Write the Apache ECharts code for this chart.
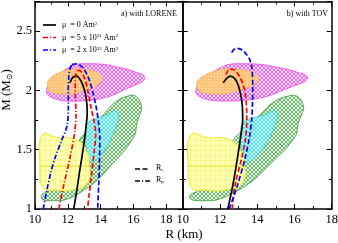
<!DOCTYPE html>
<html><head><meta charset="utf-8">
<script src="https://cdn.jsdelivr.net/npm/echarts@6/dist/echarts.min.js"></script>
<style>html,body{margin:0;padding:0;background:#fff}#c{width:338px;height:243px}</style>
</head><body><div id="c"></div>
<script>
// ---------- axis ticks ----------
const xTicksLeft = [10, 12, 14, 16, 18];
const xTicksRight = [10, 12, 14, 16, 18];
const yTicks = [1, 1.5, 2, 2.5];

// ---------- (a) LORENE curves: radius R (km), mass M (Msun) ----------
const loreneBlackR = [12.36, 12.54, 12.7, 12.85, 13.0, 13.12, 13.18, 13.17, 13.1, 13.0, 12.8, 12.54, 12.3, 12.13];
const loreneBlackM = [1.0, 1.15, 1.3, 1.43, 1.57, 1.71, 1.8, 1.87, 1.95, 2.01, 2.08, 2.12, 2.11, 2.065];
const loreneRedPolarR = [11.45, 11.75, 12.13, 12.42, 12.5, 12.46, 12.45, 12.5, 12.6];
const loreneRedPolarM = [1.0, 1.2, 1.43, 1.65, 1.8, 1.95, 2.07, 2.14, 2.17];
const loreneRedEqR = [12.6, 12.8, 13.05, 13.25, 13.42, 13.6, 13.7, 13.62, 13.45, 13.3, 13.2];
const loreneRedEqM = [2.17, 2.16, 2.09, 1.98, 1.85, 1.74, 1.63, 1.5, 1.3, 1.12, 1.0];
const loreneBluePolarR = [10.5, 10.71, 10.95, 11.22, 11.6, 11.95, 12.03, 12.03, 12.06, 12.15, 12.25];
const loreneBluePolarM = [1.0, 1.15, 1.3, 1.43, 1.57, 1.7, 1.85, 2.0, 2.12, 2.19, 2.22];
const loreneBlueEqR = [12.25, 12.55, 12.85, 13.15, 13.35, 13.55, 13.7, 13.85, 13.95, 13.93, 13.88, 13.82];
const loreneBlueEqM = [2.22, 2.225, 2.2, 2.14, 2.07, 1.97, 1.88, 1.75, 1.6, 1.4, 1.2, 1.0];

// ---------- (b) TOV curves ----------
const tovBlackR = [12.42, 12.69, 12.94, 13.15, 13.22, 13.2, 13.12, 12.99, 12.8, 12.54, 12.35, 12.18];
const tovBlackM = [1.0, 1.2, 1.43, 1.65, 1.75, 1.87, 1.96, 2.04, 2.1, 2.12, 2.1, 2.065];
const tovRedR = [12.66, 12.81, 13.17, 13.38, 13.44, 13.42, 13.35, 13.22, 13.04, 12.8, 12.54, 12.4, 12.33];
const tovRedM = [1.0, 1.2, 1.43, 1.6, 1.75, 1.88, 1.98, 2.06, 2.12, 2.17, 2.18, 2.16, 2.135];
const tovBlueR = [12.5, 12.94, 13.35, 13.6, 13.7, 13.75, 13.76, 13.71, 13.6, 13.44, 13.2, 12.9, 12.75, 12.63];
const tovBlueM = [1.0, 1.2, 1.43, 1.62, 1.75, 1.9, 2.04, 2.2, 2.26, 2.3, 2.34, 2.355, 2.345, 2.32];

// ---------- observational / constraint regions (same in both panels) ----------
const magentaR = [10.7, 10.9, 11.4, 11.9, 12.5, 13.3, 14.2, 14.9, 15.6, 16.2, 16.6, 16.7, 16.5, 16.0, 15.5, 14.9, 14.3, 13.5, 12.5, 11.6, 11.0, 10.75];
const magentaM = [2.0, 2.07, 2.13, 2.18, 2.22, 2.225, 2.22, 2.2, 2.18, 2.15, 2.13, 2.1, 2.07, 2.04, 2.01, 1.97, 1.94, 1.92, 1.91, 1.915, 1.94, 1.97];
const orangeR = [10.75, 10.9, 11.2, 11.65, 12.2, 12.72, 13.3, 13.8, 14.07, 13.95, 13.44, 12.8, 12.18, 11.6, 11.1, 10.85];
const orangeM = [2.06, 2.1, 2.13, 2.16, 2.18, 2.18, 2.17, 2.15, 2.11, 2.06, 2.02, 1.99, 1.97, 1.97, 1.98, 2.0];
const greenR = [10.4, 10.45, 11.1, 11.9, 12.9, 13.6, 14.0, 14.7, 15.5, 15.8, 16.1, 16.2, 16.4, 16.5, 16.3, 16.0, 15.6, 15.2, 14.7, 14.2, 13.8, 13.2, 12.7, 12.2, 11.5, 10.8];
const greenM = [1.12, 1.08, 1.07, 1.08, 1.15, 1.22, 1.27, 1.38, 1.5, 1.56, 1.63, 1.72, 1.8, 1.86, 1.93, 1.96, 1.95, 1.93, 1.88, 1.8, 1.75, 1.66, 1.58, 1.4, 1.25, 1.15];
const cyanR = [13.2, 13.6, 14.1, 14.5, 14.9, 15.1, 14.9, 14.6, 14.2, 13.8, 13.4, 13.2, 13.1];
const cyanM = [1.72, 1.76, 1.78, 1.8, 1.83, 1.78, 1.68, 1.58, 1.49, 1.42, 1.4, 1.45, 1.6];
const yellowR = [10.6, 11.1, 11.6, 12.2, 12.8, 13.1, 13.3, 13.3, 13.4, 13.2, 12.9, 12.3, 11.8, 11.2, 10.6, 10.35, 10.3, 10.3, 10.25, 10.35];
const yellowM = [1.64, 1.61, 1.6, 1.6, 1.56, 1.5, 1.43, 1.36, 1.29, 1.22, 1.18, 1.16, 1.15, 1.16, 1.16, 1.22, 1.3, 1.4, 1.5, 1.6];
const yellowMidR = [10.3, 13.3];
const yellowMidM = [1.36, 1.36];

const FONT = '"Liberation Serif", "DejaVu Serif", serif';

function pat(bg, fg, size, kind) {
  const c = document.createElement('canvas');
  c.width = size; c.height = size;
  const g = c.getContext('2d');
  g.fillStyle = bg; g.fillRect(0, 0, size, size);
  g.fillStyle = fg; g.strokeStyle = fg; g.lineWidth = 1;
  if (kind === 'x') {
    g.beginPath(); g.moveTo(0, 0); g.lineTo(size, size); g.moveTo(size, 0); g.lineTo(0, size); g.stroke();
  } else if (kind === 'grid') {
    g.fillRect(0, 0, size, 1); g.fillRect(0, 0, 1, size);
  } else if (kind === 'dot') {
    g.fillRect(1, 1, 1, 1);
  }
  return { image: c, repeat: 'repeat' };
}

const fills = {
  magenta: pat('#fde0fd', '#f565f5', 4, 'x'),
  orange: pat('#fcc57a', '#fde2bb', 3, 'dot'),
  green: pat('#f0faf0', '#63b963', 4, 'x'),
  cyan: pat('#c6fafa', '#55e0e0', 4, 'x'),
  yellow: pat('#ffffb0', '#f6f690', 5, 'grid')
};

function zip(R, M) { return R.map((r, i) => [r, M[i]]); }

function region(ax, R, M, fill, stroke) {
  return {
    type: 'custom', xAxisIndex: ax, yAxisIndex: ax, silent: true, z: 1,
    data: [[R[0], M[0]]],
    renderItem: function (p, api) {
      if (p.dataIndex !== 0) return null;
      return {
        type: 'polygon',
        shape: { points: R.map((r, i) => api.coord([r, M[i]])), smooth: 0.35 },
        style: { fill: fill, stroke: stroke, lineWidth: 0.8 }
      };
    }
  };
}
function segLine(ax, R, M, color) {
  return { type: 'line', xAxisIndex: ax, yAxisIndex: ax, data: zip(R, M), showSymbol: false, silent: true, z: 1,
    lineStyle: { color: color, width: 0.8 } };
}
function curve(ax, R, M, color, dash) {
  return { type: 'line', xAxisIndex: ax, yAxisIndex: ax, data: zip(R, M), showSymbol: false, silent: true,
    smooth: 0.3, z: 3, lineStyle: { color: color, width: 1.7, type: dash } };
}

const DASH = [5, 2.5];
const DASHDOT = [5, 2, 1.2, 2];

function regionsFor(ax) {
  return [
    region(ax, greenR, greenM, fills.green, '#3a9a3a'),
    region(ax, cyanR, cyanM, fills.cyan, '#30d0d0'),
    region(ax, yellowR, yellowM, fills.yellow, '#e2e200'),
    segLine(ax, yellowMidR, yellowMidM, '#e2e200'),
    region(ax, magentaR, magentaM, fills.magenta, '#f040f0'),
    region(ax, orangeR, orangeM, fills.orange, '#f8b050')
  ];
}

const axisLine = { show: true, lineStyle: { color: '#000', width: 1.5 } };
const tick = { show: true, inside: true, length: 5, lineStyle: { color: '#000', width: 1 } };
const minor = { show: true, splitNumber: 2, length: 3, lineStyle: { color: '#000', width: 1 } };
const lbl = { color: '#000', fontFamily: FONT, fontSize: 12.5, margin: 4, hideOverlap: false };

function xAx(grid, max, pos, labels) {
  return { type: 'value', gridIndex: grid, position: pos, min: 10, max: max, interval: 2,
    axisLine: axisLine, axisTick: tick, minorTick: minor, splitLine: { show: false }, minorSplitLine: { show: false },
    axisLabel: labels ? Object.assign({}, lbl, { showMaxLabel: max === 18, showMinLabel: true, alignMaxLabel: 'center', alignMinLabel: 'center' }) : { show: false } };
}
function yAx(grid, pos, labels) {
  return { type: 'value', gridIndex: grid, position: pos, min: 1, max: 2.75, interval: 0.5,
    axisLine: axisLine, axisTick: tick, minorTick: minor, splitLine: { show: false }, minorSplitLine: { show: false },
    axisLabel: labels ? Object.assign({}, lbl, { margin: 3, showMaxLabel: false }) : { show: false } };
}

const supRich = {
  a: { fontFamily: FONT, fontSize: 8, fill: '#000' },
  s: { fontFamily: FONT, fontSize: 5, fill: '#000', verticalAlign: 'top' }
};
const subRich = {
  a: { fontFamily: FONT, fontSize: 8, fill: '#000' },
  b: { fontFamily: FONT, fontSize: 5, fill: '#000', verticalAlign: 'bottom' }
};

function legLine(x1, x2, y, color, dash) {
  return { type: 'line', shape: { x1: x1, y1: y, x2: x2, y2: y }, style: { stroke: color, lineWidth: 1.7, lineDash: dash }, z: 10 };
}
function txt(x, y, text, rich, align) {
  return { type: 'text', x: x, y: y, z: 10,
    style: { text: text, rich: rich, fill: '#000', font: '8px ' + FONT,
      textAlign: align || 'left', align: align || 'left', textVerticalAlign: 'middle', verticalAlign: 'middle' } };
}

const option = {
  animation: false,
  backgroundColor: '#fff',
  grid: [
    { left: 35, top: 1.5, width: 147.7, height: 207.5, containLabel: false, outerBoundsMode: 'none' },
    { left: 182.7, top: 1.5, width: 149, height: 207.5, containLabel: false, outerBoundsMode: 'none' }
  ],
  xAxis: [xAx(0, 19, 'bottom', true), xAx(0, 19, 'top', false), xAx(1, 18, 'bottom', true), xAx(1, 18, 'top', false)],
  yAxis: [yAx(0, 'left', true), yAx(0, 'right', false), yAx(1, 'left', false), yAx(1, 'right', false)],
  series: [].concat(
    regionsFor(0),
    regionsFor(2),
    [
      curve(0, loreneBlackR, loreneBlackM, '#000', 'solid'),
      curve(0, loreneRedPolarR, loreneRedPolarM, '#ff0000', DASHDOT),
      curve(0, loreneRedEqR, loreneRedEqM, '#ff0000', DASH),
      curve(0, loreneBluePolarR, loreneBluePolarM, '#0000ff', DASHDOT),
      curve(0, loreneBlueEqR, loreneBlueEqM, '#0000ff', DASH),
      curve(2, tovBlackR, tovBlackM, '#000', 'solid'),
      curve(2, tovRedR, tovRedM, '#ff0000', DASH),
      curve(2, tovBlueR, tovBlueM, '#0000ff', DASH)
    ]
  ),
  graphic: [
    txt(177, 14, 'a) with LORENE', null, 'right'),
    txt(328, 14, 'b) with TOV', null, 'right'),
    legLine(43, 56, 25, '#000', null),
    legLine(43, 56, 37.5, '#ff0000', DASHDOT),
    legLine(43, 56, 50, '#0000ff', DASHDOT),
    txt(62, 25, '{a|μ  = 0 Am}{s|2}', supRich),
    txt(62, 37.5, '{a|μ  = 5 x 10}{s|31}{a| Am}{s|2}', supRich),
    txt(62, 50, '{a|μ  = 2 x 10}{s|32}{a| Am}{s|2}', supRich),
    legLine(135, 149, 169, '#000', DASH),
    legLine(135, 150, 181, '#000', DASHDOT),
    txt(156, 168, '{a|R}{b|e}', subRich),
    txt(156, 180, '{a|R}{b|p}', subRich),
    { type: 'text', x: 184, y: 235, z: 10, style: { text: 'R (km)', fill: '#000', font: '13px ' + FONT, textAlign: 'center', align: 'center', textVerticalAlign: 'middle', verticalAlign: 'middle' } },
    { type: 'text', x: 7, y: 90, rotation: Math.PI / 2, z: 10,
      style: { text: '{a|M (M}{b|⊙}{a|)}', rich: { a: { fontFamily: FONT, fontSize: 13, fill: '#000' }, b: { fontFamily: 'DejaVu Sans', fontSize: 8, fill: '#000', verticalAlign: 'bottom' } },
        textAlign: 'center', align: 'center', textVerticalAlign: 'middle', verticalAlign: 'middle' } }
  ]
};

const chart = echarts.init(document.getElementById('c'), null, { renderer: 'canvas' });
chart.setOption(option);
</script>
</body></html>
